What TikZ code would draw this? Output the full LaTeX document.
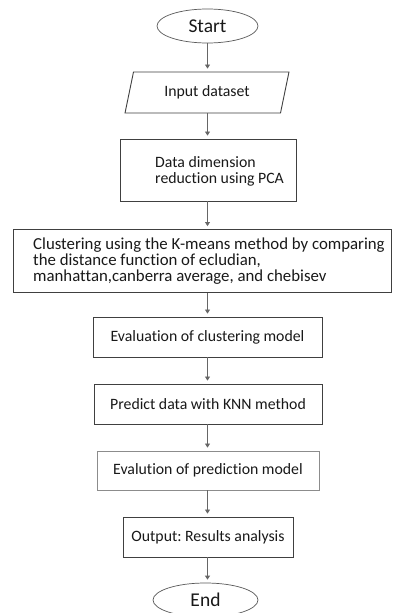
\documentclass[tikz,border=0pt]{standalone}
\usepackage{fontspec}
\setmainfont{Carlito}[Ligatures={NoCommon}]
\frenchspacing
\usetikzlibrary{shapes.geometric,arrows.meta}
\begin{document}
\begin{tikzpicture}[x=1pt,y=-1pt,
  every node/.style={font=\fontsize{15.8}{16}\selectfont, text=black!90},
  box/.style={draw=black!75, line width=0.9pt, rectangle, inner sep=0pt},
  term/.style={draw=black!65, line width=0.7pt, ellipse, inner sep=0pt, font=\fontsize{19.5}{20}\selectfont},
  arr/.style={draw=black!60, line width=0.8pt, -{Triangle[width=5pt,length=4pt]}, shorten >=3pt}]
\useasboundingbox[fill=white] (0,0) rectangle (393,613);
\node[term, minimum width=101pt, minimum height=34pt] (start) at (207.5,26) {Start};
\node[box, trapezium, trapezium left angle=70, trapezium right angle=110, trapezium stretches=true,
  minimum width=164pt, minimum height=41pt] (input) at (207,92.5) {Input dataset};
\node[box, minimum width=176pt, minimum height=62pt] (pca) at (208,170) {};
\node[anchor=west, align=left, inner sep=0pt] (pcat) at (155,171.5) {Data dimension\\reduction using PCA};
\node[box, minimum width=378pt, minimum height=63pt] (clus) at (202,261) {};
\node[anchor=west, align=left, inner sep=0pt, font=\fontsize{16.8}{16}\selectfont] (clust) at (33,261) {Clustering using the K-means method by comparing\\the distance function of ecludian,\\manhattan,canberra average, and chebisev};
\node[box, minimum width=229pt, minimum height=40pt] (evalc) at (207.5,337) {Evaluation of clustering model};
\node[box, minimum width=228pt, minimum height=40pt] (pred) at (208,404) {Predict data with KNN method};
\node[box, draw=black!45, minimum width=222pt, minimum height=39pt] (evalp) at (208,470.5) {Evalution of prediction model};
\node[box, minimum width=170pt, minimum height=40pt] (out) at (208,537) {Output: Results analysis};
\node[term, minimum width=105pt, minimum height=34pt] (end) at (205.5,600) {End};
\draw[arr] (start.south) -- (start.south |- input.north);
\draw[arr] (start.south |- input.south) -- (start.south |- pca.north);
\draw[arr] (start.south |- pca.south) -- (start.south |- clus.north);
\draw[arr] (start.south |- clus.south) -- (start.south |- evalc.north);
\draw[arr] (start.south |- evalc.south) -- (start.south |- pred.north);
\draw[arr] (start.south |- pred.south) -- (start.south |- evalp.north);
\draw[arr] (start.south |- evalp.south) -- (start.south |- out.north);
\draw[arr] (start.south |- out.south) -- (start.south |- end.north);
\end{tikzpicture}
\end{document}
